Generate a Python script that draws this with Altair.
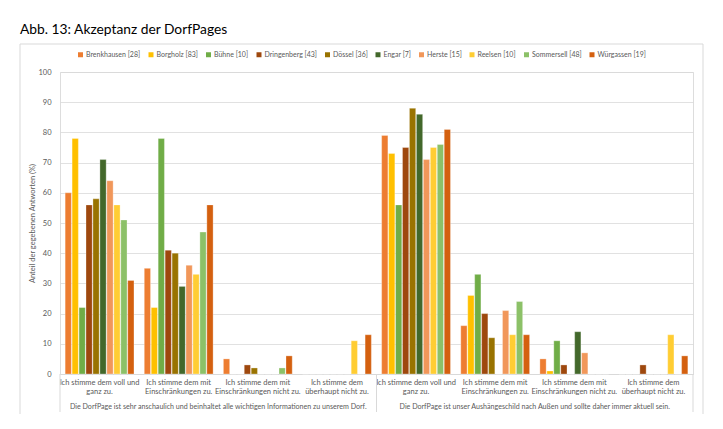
import altair as alt
import pandas as pd

villages = ["Brenkhausen [28]", "Borgholz [83]", "Bühne [10]", "Dringenberg [43]", "Dössel [36]",
            "Engar [7]", "Herste [15]", "Reelsen [10]", "Sommersell [48]", "Würgassen [19]"]
colors = ["#ED7D31", "#FFC000", "#70AD47", "#9E480E", "#997300",
          "#43682B", "#F1975A", "#FFCD33", "#8CC168", "#D4600F"]

answers = ["Ich stimme dem voll und|ganz zu.",
           "Ich stimme dem mit|Einschränkungen zu.",
           "Ich stimme dem mit|Einschränkungen nicht zu.",
           "Ich stimme dem|überhaupt nicht zu."]
statements = ["Die DorfPage ist sehr anschaulich und beinhaltet alle wichtigen Informationen zu unserem Dorf.",
              "Die DorfPage ist unser Aushängeschild nach Außen und sollte daher immer aktuell sein."]

# values per answer, village order as above
s1_voll = [60, 78, 22, 56, 58, 71, 64, 56, 51, 31]
s1_mit = [35, 22, 78, 41, 40, 29, 36, 33, 47, 56]
s1_mit_nicht = [5, 0, 0, 3, 2, 0, 0, 0, 2, 6]
s1_nicht = [0, 0, 0, 0, 0, 0, 0, 11, 0, 13]
s2_voll = [79, 73, 56, 75, 88, 86, 71, 75, 76, 81]
s2_mit = [16, 26, 33, 20, 12, 0, 21, 13, 24, 13]
s2_mit_nicht = [5, 1, 11, 3, 0, 14, 7, 0, 0, 0]
s2_nicht = [0, 0, 0, 3, 0, 0, 0, 13, 0, 6]

title_text = "Abb. 13: Akzeptanz der DorfPages"
y_title = "Anteil der gegebenen Antworten (%)"

series = [[s1_voll, s1_mit, s1_mit_nicht, s1_nicht],
          [s2_voll, s2_mit, s2_mit_nicht, s2_nicht]]

rows = []
cat_order = []
for si, blocks in enumerate(series):
    for ai, vals in enumerate(blocks):
        key = f"{si}|{answers[ai]}"
        cat_order.append(key)
        for vi, v in enumerate(vals):
            rows.append({"cat": key, "village": villages[vi], "value": v})
df = pd.DataFrame(rows)

df_div = pd.DataFrame({"pos": [0, 1, 2]})
df_stmt = pd.DataFrame({"pos": [0.5, 1.5], "label": statements})
df_title = pd.DataFrame({"t": [title_text]})

FONT = "Lato"
GRAY = "#595959"
LINE = "#D9D9D9"
W, H = 633, 302

bars = alt.Chart(df).mark_bar(stroke="white", strokeWidth=0.5, strokeOpacity=0.6).encode(
    x=alt.X("cat:N", sort=cat_order, title=None,
            scale=alt.Scale(paddingInner=0.13, paddingOuter=0.065),
            axis=alt.Axis(labelExpr="slice(split(datum.label, '|'), 1)",
                          labelAngle=0, labelFontSize=7.5, labelColor=GRAY, labelFont=FONT,
                          labelLineHeight=9, labelPadding=4, labelBaseline="top",
                          ticks=False, domainColor=LINE, domainWidth=1, grid=False,
                          labelOverlap=False, labelLimit=200)),
    xOffset=alt.XOffset("village:N", sort=villages, scale=alt.Scale(paddingInner=0.1)),
    y=alt.Y("value:Q", title=y_title,
            scale=alt.Scale(domain=[0, 100]),
            axis=alt.Axis(values=list(range(0, 101, 10)), labelFontSize=7.5, labelColor=GRAY,
                          labelFont=FONT, labelPadding=9, ticks=False, domain=False,
                          gridColor=LINE, gridWidth=0.8,
                          titleFontSize=7.5, titleColor=GRAY, titleFont=FONT,
                          titleFontWeight="normal", titlePadding=1)),
    color=alt.Color("village:N", sort=villages,
                    scale=alt.Scale(domain=villages, range=colors),
                    legend=alt.Legend(title=None, orient="none", legendX=17, legendY=-21,
                                      direction="horizontal", columns=10, symbolType="square",
                                      symbolSize=25, symbolStrokeWidth=0, labelFontSize=7,
                                      labelColor=GRAY, labelFont=FONT, columnPadding=6.5,
                                      labelOffset=2)),
)

dividers = alt.Chart(df_div).mark_rule(color=LINE, strokeWidth=1).encode(
    x=alt.X("pos:Q", scale=alt.Scale(domain=[0, 2], nice=False, zero=False), axis=None),
    y=alt.value(H),
    y2=alt.value(H + 38),
)

stmt = alt.Chart(df_stmt).mark_text(fontSize=7.1, color=GRAY, font=FONT, baseline="middle").encode(
    x=alt.X("pos:Q", scale=alt.Scale(domain=[0, 2], nice=False, zero=False), axis=None),
    y=alt.value(H + 33),
    text="label:N",
)

frame = alt.Chart(df_title).mark_rect(fillOpacity=0, stroke=LINE, strokeWidth=1).encode(
    x=alt.value(-40), x2=alt.value(643), y=alt.value(-28), y2=alt.value(344),
)

title = alt.Chart(df_title).mark_text(fontSize=13.8, color="#000000", font=FONT,
                                      align="left", baseline="alphabetic").encode(
    x=alt.value(-40), y=alt.value(-38.5), text="t:N",
)

chart = alt.layer(frame, bars, dividers, stmt, title).resolve_scale(x="independent").properties(
    width=W, height=H,
    autosize=alt.AutoSizeParams(type="none"),
    padding={"left": 52, "top": 64, "right": 22, "bottom": 40},
).configure_view(stroke=None).configure(font=FONT)

chart.save("out.html", embed_options={"renderer": "svg", "actions": False})
